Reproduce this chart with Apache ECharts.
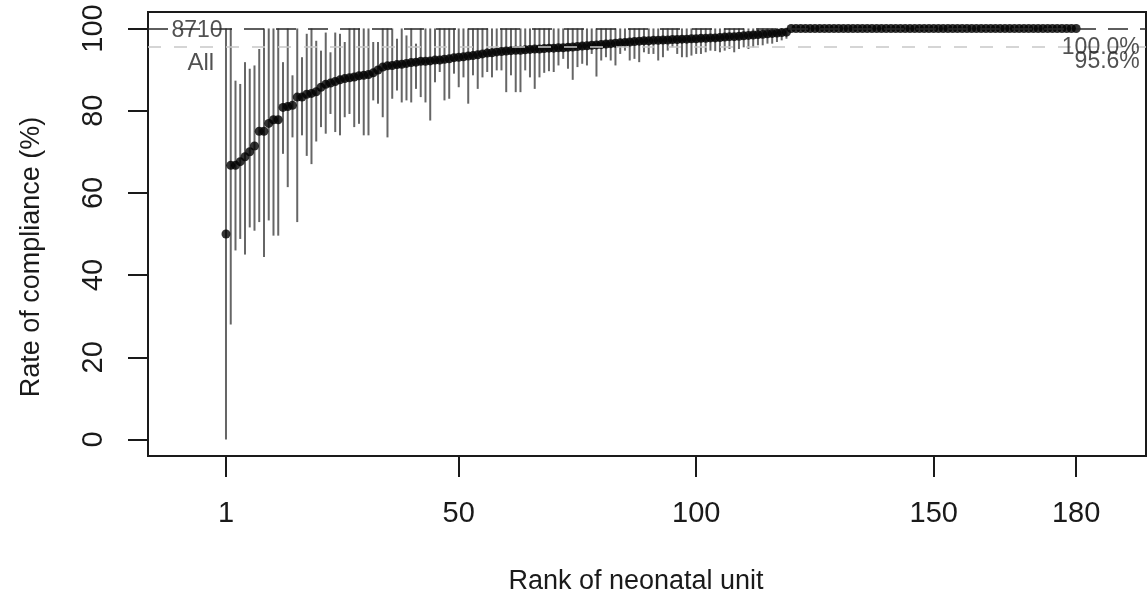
<!DOCTYPE html>
<html>
<head>
<meta charset="utf-8">
<script src="https://cdn.jsdelivr.net/npm/echarts@6/dist/echarts.min.js"></script>
<style>
html,body{margin:0;padding:0;background:#ffffff;}
#chart{width:1148px;height:602px;}
</style>
</head>
<body>
<div id="chart"></div>
<script>
// ---- Data ----
// Rank of neonatal unit = position in these arrays (1..180)
const rate = [
  50,66.7,66.7,67.6,68.8,70,71.4,75,75,76.9,
  77.8,77.8,80.8,81,81.3,83.3,83.3,84,84.2,84.6,
  85.7,86.4,86.7,87.1,87.5,87.8,88,88.2,88.5,88.6,
  88.8,89.2,89.9,90.6,90.9,91,91.2,91.3,91.5,91.7,
  91.8,92,92,92.1,92.3,92.3,92.5,92.6,92.9,93,
  93.1,93.3,93.4,93.6,93.8,94,94.1,94.3,94.4,94.5,
  94.6,94.7,94.7,94.8,94.9,95,95,95.1,95.2,95.2,
  95.3,95.3,95.4,95.5,95.6,95.7,95.8,95.9,96,96.1,
  96.2,96.3,96.4,96.5,96.6,96.7,96.8,96.9,97,97,
  97.1,97.1,97.2,97.2,97.3,97.3,97.4,97.4,97.5,97.5,
  97.6,97.6,97.7,97.7,97.8,97.9,98,98,98.1,98.2,
  98.3,98.4,98.5,98.6,98.7,98.8,98.9,99,99.1,100,
  100,100,100,100,100,100,100,100,100,100,
  100,100,100,100,100,100,100,100,100,100,
  100,100,100,100,100,100,100,100,100,100,
  100,100,100,100,100,100,100,100,100,100,
  100,100,100,100,100,100,100,100,100,100,
  100,100,100,100,100,100,100,100,100,100
];
const lower = [
  0,28,46,48.8,45,51.6,50.8,52.9,44.4,53.3,
  49.6,49.6,69.5,61.4,73.5,52.9,74,69,67,72.5,
  76,74.4,79.2,74.8,74,78.4,79.2,76,76.8,74,
  74,82.5,81.7,78.4,73.5,82.9,84.9,82,82.5,82,
  85.3,83.3,82,77.6,86.9,89.4,82.5,82.9,89,85.7,
  88.1,81.7,88.6,85.3,88.1,89.4,88.1,89.8,89.8,84.5,
  88.6,84.5,84.5,89.8,88.1,85.3,88.1,89.2,89.6,89.4,
  91,92.6,90.2,87.5,90.6,91.4,91,93.8,88.3,92.2,
  93,92.2,91,93.8,94.6,92.2,92.6,91.8,94.2,93.8,
  93.8,92.2,93,94.6,95.4,93.8,93,93,93.4,93.8,
  93.8,94.2,94.6,94.5,94.2,94.6,95,94.2,95,95.4,
  95,95.4,95.9,95.9,96.3,96.3,96.7,97.1,97.5,100,
  100,100,100,100,100,100,100,100,100,100,
  100,100,100,100,100,100,100,100,100,100,
  100,100,100,100,100,100,100,100,100,100,
  100,100,100,100,100,100,100,100,100,100,
  100,100,100,100,100,100,100,100,100,100,
  100,100,100,100,100,100,100,100,100,100
];
const upper = [
  100,100,87.3,86.5,91.8,90.2,91,95,100,100,
  100,100,91.8,100,88.6,100,93,98.7,100,97,
  94.6,99,94.2,99,98.7,96.7,100,100,100,100,
  100,96.7,96.7,100,100,100,97.5,100,98.3,100,
  96.3,100,100,100,100,100,100,100,100,100,
  100,100,100,100,100,100,100,100,100,100,
  100,100,100,100,100,100,100,100,100,100,
  100,100,100,100,100,100,100,100,100,100,
  100,100,100,100,100,100,100,100,100,100,
  100,100,100,100,100,100,100,100,100,100,
  100,100,100,100,100,100,100,100,100,100,
  100,100,100,100,100,100,100,100,100,100,
  100,100,100,100,100,100,100,100,100,100,
  100,100,100,100,100,100,100,100,100,100,
  100,100,100,100,100,100,100,100,100,100,
  100,100,100,100,100,100,100,100,100,100,
  100,100,100,100,100,100,100,100,100,100,
  100,100,100,100,100,100,100,100,100,100
];
const xTicks = [1, 50, 100, 150, 180];
const yTicks = [0, 20, 40, 60, 80, 100];
const targetLine = 100;      // black dashed reference
const overallLine = 95.6;    // grey dashed overall rate
const annotationTexts = ['8710', 'All', '100.0%', '95.6%'];
const xTitle = 'Rank of neonatal unit';
const yTitle = 'Rate of compliance (%)';

// ---- Build chart ----
const FONT = '"Liberation Sans", Arial, Helvetica, sans-serif';
const INK = '#1a1a1a';
const ciData = rate.map((r, i) => [i + 1, lower[i], upper[i]]);
const ptData = rate.map((r, i) => [i + 1, r]);

const chart = echarts.init(document.getElementById('chart'), null, {renderer: 'canvas'});
const option = {
  animation: false,
  backgroundColor: '#ffffff',
  grid: {left: 148, right: 2, top: 12, bottom: 146, show: true,
         borderColor: INK, borderWidth: 2, backgroundColor: 'transparent'},
  xAxis: {
    type: 'value', min: -15.42, max: 194.7,
    axisLine: {show: false, onZero: false},
    axisTick: {show: true, customValues: xTicks, length: 21, lineStyle: {color: INK, width: 2}},
    axisLabel: {customValues: xTicks, fontSize: 29, color: INK, margin: 43, fontFamily: FONT},
    splitLine: {show: false},
    name: xTitle, nameLocation: 'middle', nameGap: 112,
    nameTextStyle: {fontSize: 27, color: INK, fontFamily: FONT, padding: [0, 22, 0, 0]}
  },
  yAxis: {
    type: 'value', min: -4, max: 104,
    axisLine: {show: false, onZero: false},
    axisTick: {show: true, customValues: yTicks, length: 20, lineStyle: {color: INK, width: 2}},
    axisLabel: {customValues: yTicks, rotate: 90, fontSize: 29, color: INK, margin: 40, fontFamily: FONT},
    splitLine: {show: false},
    name: yTitle, nameLocation: 'middle', nameGap: 103,
    nameTextStyle: {fontSize: 27, color: INK, fontFamily: FONT, padding: [0, 46, 0, 0]}
  },
  series: [
    {
      type: 'custom',
      data: ciData,
      encode: {x: 0, y: [1, 2]},
      z: 2,
      renderItem: function (params, api) {
        const x = api.value(0);
        const p1 = api.coord([x, api.value(1)]);
        const p2 = api.coord([x, api.value(2)]);
        return {
          type: 'line',
          shape: {x1: p1[0], y1: p1[1], x2: p2[0], y2: p2[1]},
          style: {stroke: '#666666', lineWidth: 2}
        };
      }
    },
    {
      type: 'scatter',
      data: ptData,
      symbol: 'circle',
      symbolSize: 9,
      itemStyle: {color: '#000000'},
      z: 4,
      markLine: {
        silent: true,
        symbol: ['none', 'none'],
        label: {show: false},
        data: [
          {yAxis: targetLine, lineStyle: {type: [20, 12], color: '#2a2a2a', width: 1.6}},
          {yAxis: overallLine, lineStyle: {type: [13, 13], color: '#c8c8c8', width: 1.6}}
        ]
      }
    },
    {
      type: 'scatter',
      symbolSize: 1,
      itemStyle: {color: 'rgba(0,0,0,0)'},
      z: 5,
      silent: true,
      label: {show: true, position: 'inside', color: '#262626', fontFamily: FONT, fontSize: 23,
              formatter: p => p.data.text},
      data: [
        {value: [-5.1, 99.5], text: annotationTexts[0], label: {align: 'center', verticalAlign: 'middle'}},
        {value: [-4.3, 91.4], text: annotationTexts[1], label: {align: 'center', verticalAlign: 'middle', fontSize: 24}},
        {value: [193.4, 95.4], text: annotationTexts[2], label: {align: 'right', verticalAlign: 'middle'}},
        {value: [193.4, 92.0], text: annotationTexts[3], label: {align: 'right', verticalAlign: 'middle'}}
      ]
    }
  ]
};
chart.setOption(option);
</script>
</body>
</html>
